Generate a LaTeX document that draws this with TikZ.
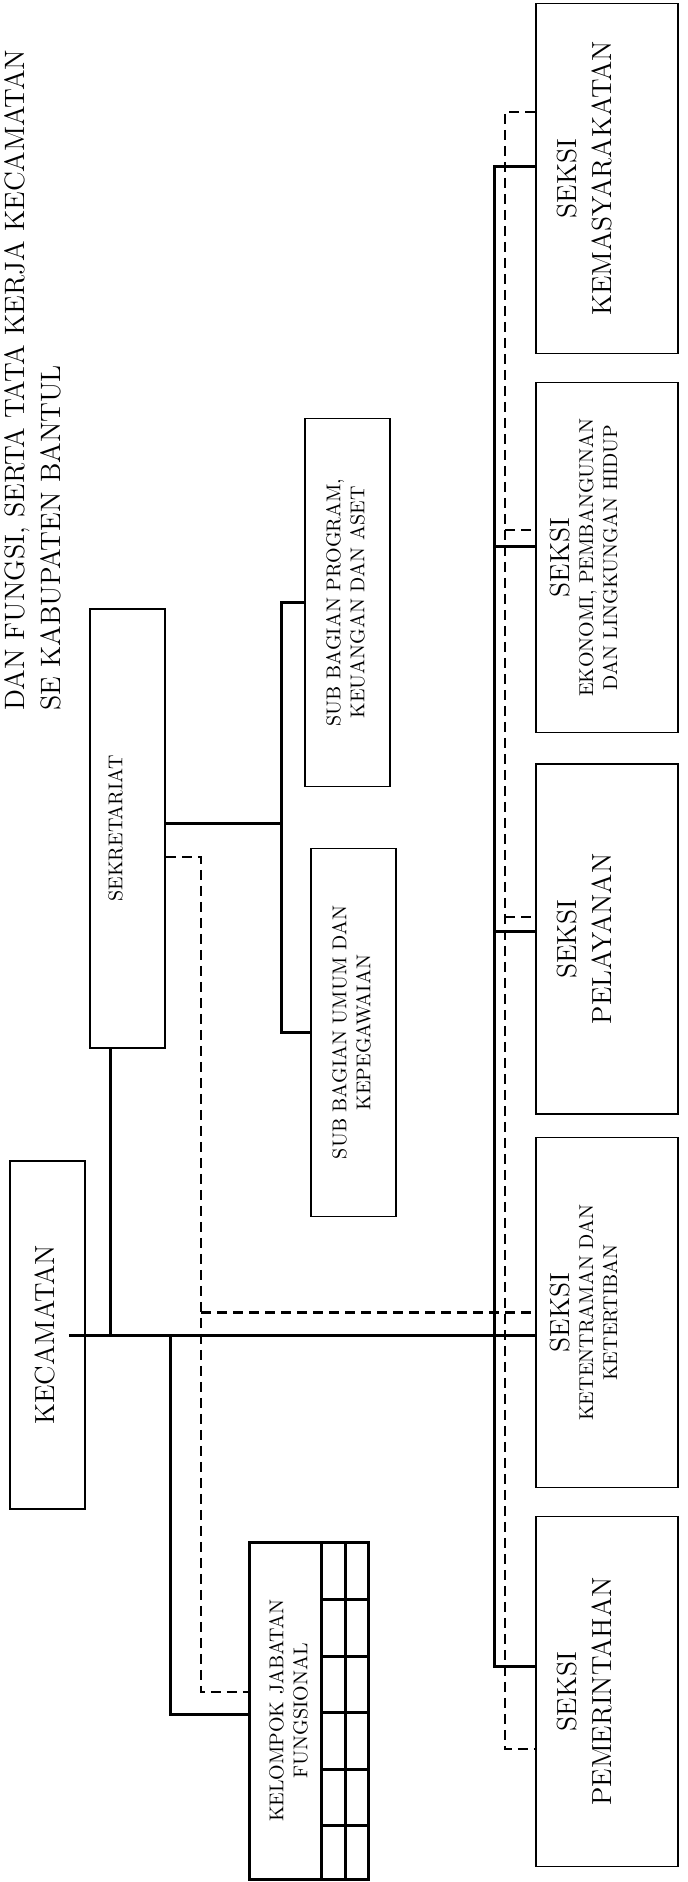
\documentclass[tikz,border=0pt]{standalone}
\usepackage{graphicx}
\newcommand{\lgtxt}{\fontsize{13.8}{17.5}\selectfont}
\newcommand{\smtxt}{\fontsize{10}{12}\selectfont}
\newcommand{\vlab}[3][0pt]{\rotatebox{90}{#2\begin{tabular}{@{}c@{}}#3\end{tabular}}\hspace*{#1}}

\begin{document}
\begin{tikzpicture}[x=0.5pt,y=-0.5pt,line width=1.5pt,
  box/.style={draw,line width=0.8pt,inner sep=0pt},
  seksi/.style={box,minimum width=71pt,minimum height=175pt},
  sub/.style={box,minimum width=42.5pt,minimum height=184pt},
  dashline/.style={dash pattern=on 5pt off 3pt,line width=1.4pt}]
  \path[use as bounding box,fill=white] (0,0) rectangle (687,1882);
  \node[anchor=south west,inner sep=0pt] (title) at (-1,712)
    {\rotatebox{90}{\fontsize{14}{17.5}\selectfont\begin{tabular}{@{}l@{}}DAN FUNGSI, SERTA TATA KERJA KECAMATAN\\SE KABUPATEN BANTUL\end{tabular}}};
  \node[seksi] (kemas) at (607,178.5) {\vlab[20pt]{\lgtxt}{SEKSI\\KEMASYARAKATAN}};
  \node[seksi] (eko) at (607,557.5) {\vlab[20pt]{\smtxt}{{\lgtxt SEKSI}\\EKONOMI, PEMBANGUNAN\\DAN LINGKUNGAN HIDUP}};
  \node[seksi] (pel) at (607,939) {\vlab[20pt]{\lgtxt}{SEKSI\\PELAYANAN}};
  \node[seksi] (ket) at (607,1312.5) {\vlab[20pt]{\smtxt}{{\lgtxt SEKSI}\\KETENTRAMAN DAN\\KETERTIBAN}};
  \node[seksi] (pem) at (607,1691.5) {\vlab[20pt]{\lgtxt}{SEKSI\\PEMERINTAHAN}};
  \node[box,minimum width=37.5pt,minimum height=174pt] (kec) at (47.5,1335) {\vlab{\lgtxt}{KECAMATAN}};
  \node[box,minimum width=37.5pt,minimum height=219.5pt] (sek) at (127.5,828.5) {\vlab[10pt]{\smtxt}{SEKRETARIAT}};
  \node[sub] (subprog) at (347.5,602.5) {\vlab{\smtxt}{SUB BAGIAN PROGRAM,\\KEUANGAN DAN ASET}};
  \node[sub] (subum) at (353.5,1032.5) {\vlab{\smtxt}{SUB BAGIAN UMUM DAN\\KEPEGAWAIAN}};
  \node[box,line width=1.5pt,minimum width=59.5pt,minimum height=168.5pt] (kel) at (308.5,1710.5) {\vlab[18pt]{\smtxt}{KELOMPOK JABATAN\\FUNGSIONAL}};
  \draw (321,1542) -- (321,1879) (345,1542) -- (345,1879)
    (321,1599) -- (368,1599) (321,1656) -- (368,1656) (321,1712) -- (368,1712)
    (321,1769) -- (368,1769) (321,1825) -- (368,1825);
  \draw ([xshift=-8.5pt]kec.east) -- (kec.east -| ket.west);
  \draw ([xshift=-8.75pt]sek.south) -- ([xshift=-8.75pt]sek.south |- kec.east);
  \coordinate (kj) at (170,1335);
  \draw (kj) |- ([yshift=-1.75pt]kel.west);
  \coordinate (sb) at (281,823);
  \draw (sek.east |- sb) -- (sb);
  \draw (subprog.west) -| (sb) |- (subum.west);
  \coordinate (dk) at (201,857);
  \draw[dashline] (sek.east |- dk) -- (dk) |- ([yshift=9.25pt]kel.west);
  \draw[dashline] (dk |- ket.west) -- (ket.west);
  \coordinate (sK) at (494,167);
  \coordinate (sE) at (494,546);
  \coordinate (sP) at (494,931);
  \coordinate (sM) at (494,1666);
  \draw (sK -| kemas.west) -- (sK) -- (sM) -- (sM -| pem.west);
  \draw (sE) -- (sE -| eko.west);
  \draw (sP) -- (sP -| pel.west);
  \coordinate (dK) at (505,112);
  \coordinate (dE) at (505,530);
  \coordinate (dP) at (505,917);
  \coordinate (dM) at (505,1749);
  \draw[dashline] (dK -| kemas.west) -- (dK) -- (dM) -- (dM -| pem.west);
  \draw[dashline] (dE) -- (dE -| eko.west);
  \draw[dashline] (dP) -- (dP -| pel.west);
\end{tikzpicture}
\end{document}
